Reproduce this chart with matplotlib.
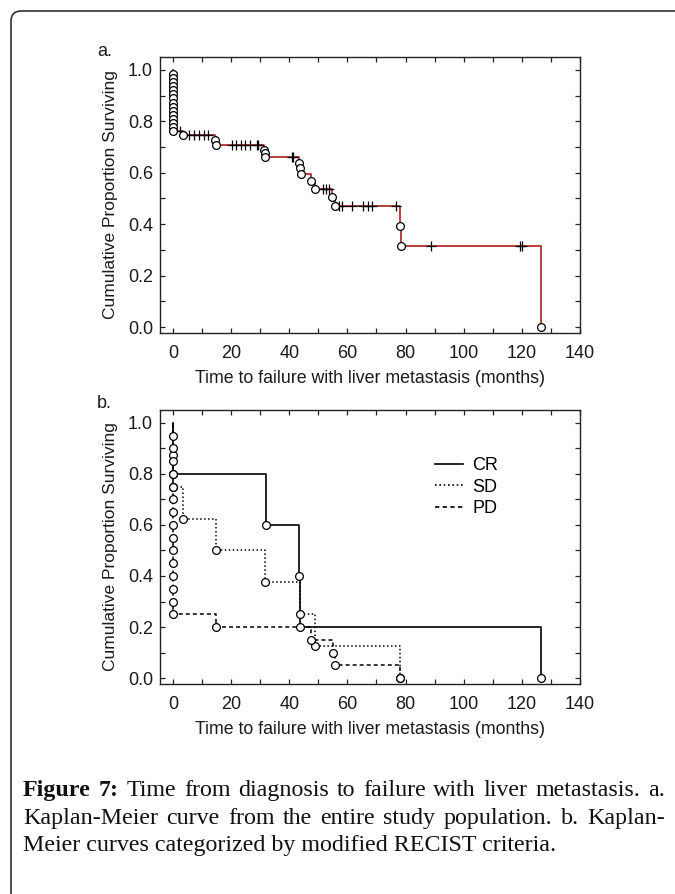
import matplotlib
matplotlib.use('Agg')
import matplotlib.pyplot as plt
from matplotlib.lines import Line2D
from matplotlib.patches import FancyBboxPatch
from matplotlib.transforms import IdentityTransform
from matplotlib.ticker import MultipleLocator, FormatStrFormatter

plt.rcParams['font.family'] = ['Liberation Sans', 'DejaVu Sans']

# ---------------- data: panel a (entire population) ----------------
a_event_times = [0, 0, 0, 0, 0, 0, 0, 0, 0, 0, 0, 0, 0, 0, 0,
                 3.4, 14.3, 14.7, 31.3, 31.6, 31.8, 43.3, 43.8, 44.2,
                 47.3, 48.8, 54.8, 55.7, 78.0, 78.3, 126.5]
a_event_surv = [0.984, 0.968, 0.952, 0.937, 0.921, 0.905, 0.889, 0.873,
                0.857, 0.841, 0.825, 0.810, 0.794, 0.778, 0.762,
                0.746, 0.728, 0.706, 0.689, 0.675, 0.661, 0.638, 0.617, 0.596,
                0.566, 0.536, 0.505, 0.471, 0.392, 0.314, 0.0]
a_censor_times = [2.4, 5.6, 7.3, 8.9, 10.6, 12.1,
                  20.2, 21.7, 23.3, 24.8, 26.5, 28.8, 29.3,
                  40.8, 41.4, 51.5, 52.6, 53.6,
                  57.2, 58.0, 61.5, 65.5, 67.0, 68.5, 76.7,
                  88.6, 119.4, 120.1]
a_censor_surv = [0.762, 0.746, 0.746, 0.746, 0.746, 0.746,
                 0.706, 0.706, 0.706, 0.706, 0.706, 0.706, 0.706,
                 0.661, 0.661, 0.536, 0.536, 0.536,
                 0.471, 0.471, 0.471, 0.471, 0.471, 0.471, 0.471,
                 0.314, 0.314, 0.314]

# ---------------- data: panel b (by modified RECIST) ----------------
cr_times = [0, 32.0, 43.3, 43.7, 126.5]
cr_surv = [0.8, 0.6, 0.4, 0.2, 0.0]
sd_times = [0, 0, 3.5, 14.8, 31.6, 43.6, 48.8, 78.0]
sd_surv = [0.875, 0.75, 0.625, 0.5, 0.375, 0.25, 0.125, 0.0]
pd_times = [0, 0, 0, 0, 0, 0, 0, 0, 0, 0, 0, 0, 0, 0, 0,
            14.8, 47.4, 54.9, 55.7, 78.0]
pd_surv = [0.95, 0.90, 0.85, 0.80, 0.75, 0.70, 0.65, 0.60, 0.55, 0.50,
           0.45, 0.40, 0.35, 0.30, 0.25, 0.20, 0.15, 0.10, 0.05, 0.0]
groups = ['CR', 'SD', 'PD']

x_ticks = [0, 20, 40, 60, 80, 100, 120, 140]
y_ticks = [0.0, 0.2, 0.4, 0.6, 0.8, 1.0]

xlabel = 'Time to failure with liver metastasis (months)'
ylabel = 'Cumulative Proportion Surviving'

W, H = 675, 894
fig = plt.figure(figsize=(W / 100, H / 100), dpi=100)
fig.patch.set_facecolor('white')

def fr(x0, y0, x1, y1):
    return [x0 / W, 1 - y1 / H, (x1 - x0) / W, (y1 - y0) / H]

ax_a = fig.add_axes(fr(160, 57, 580, 333))
ax_b = fig.add_axes(fr(160, 410, 580, 684))

circ = dict(marker='o', ms=5.6, mfc='white', mec='black', mew=0.9, ls='none', zorder=5)

# panel a
ax_a.plot([0] + a_event_times, [1.0] + a_event_surv, drawstyle='steps-post',
          color='#b01e1e', lw=1.2, zorder=2)
ax_a.plot(a_censor_times, a_censor_surv, ls='none', marker='+', ms=7, mew=0.9,
          color='black', zorder=3)
ax_a.plot(a_event_times, a_event_surv, **circ)

# panel b
styles = {'CR': '-', 'SD': (0, (1, 1.6)), 'PD': (0, (2.6, 2.0))}
series = {'CR': (cr_times, cr_surv), 'SD': (sd_times, sd_surv), 'PD': (pd_times, pd_surv)}
for g in groups:
    t, s = series[g]
    ax_b.plot([0] + t, [1.0] + s, drawstyle='steps-post', color='black',
              ls=styles[g], lw=1.2 if g == 'CR' else 1.1, zorder=2)
for g in groups:
    t, s = series[g]
    ax_b.plot(t, s, **circ)

handles = [Line2D([], [], color='black', ls=styles[g], lw=1.2) for g in groups]
ax_b.legend(handles, groups, loc='upper left', bbox_to_anchor=(0.655, 0.828),
            frameon=False, fontsize=13, handlelength=1.55, handletextpad=0.5,
            labelspacing=0.25, borderpad=0, borderaxespad=0)

for ax in (ax_a, ax_b):
    ax.set_xlim(-4.47, 140)
    ax.set_ylim(-0.023, 1.05)
    ax.set_xticks(x_ticks)
    ax.set_yticks(y_ticks)
    ax.xaxis.set_minor_locator(MultipleLocator(10))
    ax.yaxis.set_minor_locator(MultipleLocator(0.1))
    ax.yaxis.set_major_formatter(FormatStrFormatter('%.1f'))
    ax.tick_params(which='both', direction='in', top=True, right=True,
                   length=3.5, width=0.9, color='#222222')
    ax.tick_params(which='major', labelsize=13, labelcolor='#1a1a1a')
    ax.tick_params(axis='x', which='major', pad=8.5)
    ax.tick_params(axis='y', which='major', pad=5)
    for sp in ax.spines.values():
        sp.set_linewidth(1.0)
        sp.set_color('#222222')
    ax.set_xlabel(xlabel, fontsize=12.8, color='#1a1a1a')
    ax.set_ylabel(ylabel, fontsize=12.5, color='#1a1a1a')
    ax.xaxis.set_label_coords(0.5, -0.135)
    ax.yaxis.set_label_coords(-0.10, 0.5)

fig.text(97 / W, 1 - 56 / H, 'a.', fontsize=13, va='baseline', ha='left', color='#1a1a1a')
fig.text(97 / W, 1 - 408 / H, 'b.', fontsize=13, va='baseline', ha='left', color='#1a1a1a')

# frame with rounded corner (extends past right / bottom edges)
frame = FancyBboxPatch((11, -60), 760, (H - 11) + 60,
                       boxstyle='round,pad=0,rounding_size=10',
                       transform=IdentityTransform(), fill=False,
                       lw=1.1, edgecolor='#222222')
fig.patches.append(frame)

# caption (justified)
serif = ['Liberation Serif', 'DejaVu Serif']
renderer = fig.canvas.get_renderer()
line3 = 'Meier curves categorized by modified RECIST criteria.'
probe = fig.text(0, 0, line3, fontsize=10, family=serif, transform=IdentityTransform())
w10 = probe.get_window_extent(renderer).width
probe.remove()
cap_size = 10 * 532 / w10

line1 = [('Figure', True), ('7:', True), ('Time', False), ('from', False),
         ('diagnosis', False), ('to', False), ('failure', False), ('with', False),
         ('liver', False), ('metastasis.', False), ('a.', False)]
line2 = [(w, False) for w in 'Kaplan-Meier curve from the entire study population. b. Kaplan-'.split()]

def place_justified(words, x0, x1, baseline):
    texts, widths = [], []
    for w, bold in words:
        t = fig.text(0, 0, w, fontsize=cap_size, family=serif,
                     weight='bold' if bold else 'normal', color='#111111',
                     transform=IdentityTransform(), va='baseline', ha='left')
        widths.append(t.get_window_extent(renderer).width)
        texts.append(t)
    gap = (x1 - x0 - sum(widths)) / (len(words) - 1)
    x = x0
    for t, w in zip(texts, widths):
        t.set_position((x, H - baseline))
        x += w + gap

place_justified(line1, 23, 665, 796)
place_justified(line2, 23, 665, 824)
fig.text(23, H - 851, line3, fontsize=cap_size, family=serif, color='#111111',
         transform=IdentityTransform(), va='baseline', ha='left')

fig.savefig('out.png', dpi=100, facecolor='white')
